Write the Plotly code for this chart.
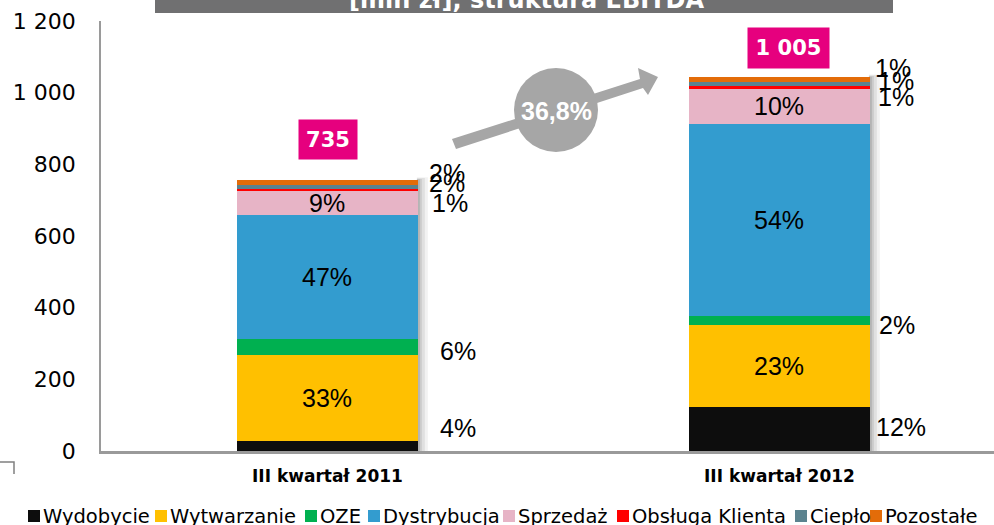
import plotly.graph_objects as go

# ---------------- data ----------------
categories = ["III kwartał 2011", "III kwartał 2012"]
segments = ["Wydobycie", "Wytwarzanie", "OZE", "Dystrybucja", "Sprzedaż",
            "Obsługa Klienta", "Ciepło", "Pozostałe"]
values_2011 = [29, 240, 43, 346, 68, 5, 12, 13]
values_2012 = [122, 231, 23, 537, 98, 9, 11, 12]
pct_2011 = ["4%", "33%", "6%", "47%", "9%", "1%", "2%", "2%"]
pct_2012 = ["12%", "23%", "2%", "54%", "10%", "1%", "1%", "1%"]
total_labels = ["735", "1 005"]
growth_label = "36,8%"
title_text = "[mln zł], struktura EBITDA"
y_tickvals = [0, 200, 400, 600, 800, 1000, 1200]
y_ticktext = ["0", "200", "400", "600", "800", "1 000", "1 200"]

# ---------------- styles / layout helpers ----------------
colors = ["#0D0D0D", "#FFC000", "#00B050", "#339CCF", "#E7B4C6",
          "#FF0000", "#5B838F", "#E36C09"]
inside_idx = [1, 3, 4]
outside_idx = [0, 2, 5, 6, 7]
# y positions (data units) and x shifts (px) of labels placed right of bars
outside_y = [[64, 280, 691, 747, 775], [68, 353, 987, 1032, 1068]]
outside_xshift = [[20, 20, 12, 9, 9], [4, 7, 6, 6, 3]]

W, H = 994, 525
ML, MR, MT, MB = 101, 0, 21, 74
PW, PH = W - ML - MR, H - MT - MB
BAR_W = 0.4
X_RANGE = [-0.501, 1.4746]


def pxx(px):
    return (px - ML) / PW


def pxy(py):
    return (H - MB - py) / PH


SANS = "Liberation Sans, Arial, sans-serif"
WIDE = "DejaVu Sans, sans-serif"

fig = go.Figure()
series = [values_2011, values_2012]
for k, name in enumerate(segments):
    fig.add_trace(go.Bar(
        x=[0, 1], y=[series[0][k], series[1][k]], name=name,
        marker=dict(color=colors[k], line=dict(width=0)),
        width=BAR_W, showlegend=False, hoverinfo="skip"))

annotations = []
shapes = []


def paper_text(px, py, text, font, **kw):
    d = dict(x=pxx(px), y=pxy(py), xref="paper", yref="paper", text=text,
             showarrow=False, xanchor="center", yanchor="middle", font=font)
    d.update(kw)
    annotations.append(d)


# bar shadows
px_unit = (X_RANGE[1] - X_RANGE[0]) / PW
for i, vals in enumerate(series):
    tot = sum(vals)
    for s, op in [(10, 0.05), (7, 0.07), (4, 0.09), (2, 0.11)]:
        shapes.append(dict(type="rect", xref="x", yref="y", layer="below",
                           x0=i + BAR_W / 2 - 1 * px_unit, x1=i + BAR_W / 2 + s * px_unit,
                           y0=0, y1=tot + s * 0.8,
                           fillcolor="rgba(0,0,0,%s)" % op, line=dict(width=0)))

# percentage labels
pcts = [pct_2011, pct_2012]
for i, vals in enumerate(series):
    cum = 0
    mids = []
    for v in vals:
        mids.append(cum + v / 2)
        cum += v
    for k in inside_idx:
        annotations.append(dict(x=i, y=mids[k], xref="x", yref="y", text=pcts[i][k],
                                showarrow=False, xanchor="center", yanchor="middle",
                                font=dict(family=SANS, size=25, color="black")))
    for j, k in enumerate(outside_idx):
        annotations.append(dict(x=i + BAR_W / 2, y=outside_y[i][j], xref="x", yref="y",
                                text=pcts[i][k], showarrow=False, xanchor="left", yanchor="middle",
                                xshift=outside_xshift[i][j],
                                font=dict(family=SANS, size=25, color="black")))

# total boxes
box_pos = [(327.5, 139.5, 50, 31), (788.5, 48, 73, 32)]
for (cx, cy, w, h), lab in zip(box_pos, total_labels):
    paper_text(cx, cy, "<b>%s</b>" % lab, dict(family=WIDE, size=21, color="white"),
               bgcolor="#E6007E", borderpad=4, width=w, height=h)

# growth arrow
arrow_pts = [(452, 139), (640, 79), (638, 68), (658, 77), (648, 95), (643, 88), (456, 149)]
path = "M " + " L ".join("%f,%f" % (pxx(x), pxy(y)) for x, y in arrow_pts) + " Z"
shapes.append(dict(type="path", xref="paper", yref="paper", path=path,
                   fillcolor="#A6A6A6", line=dict(width=0)))
shapes.append(dict(type="circle", xref="paper", yref="paper",
                   x0=pxx(514), x1=pxx(598), y0=pxy(152), y1=pxy(68),
                   fillcolor="#A6A6A6", line=dict(width=0)))
paper_text(556, 111, "<b>%s</b>" % growth_label, dict(family=SANS, size=25, color="white"))

# title bar (cut at top)
shapes.append(dict(type="rect", xref="paper", yref="paper", x0=pxx(155), x1=pxx(893),
                   y0=pxy(13), y1=pxy(-5), fillcolor="#707071", line=dict(width=0)))
paper_text(526, 0, "<b>%s</b>" % title_text, dict(family=WIDE, size=24, color="white"))

# small corner mark bottom-left
shapes.append(dict(type="path", xref="paper", yref="paper",
                   path="M %f,%f L %f,%f L %f,%f" % (pxx(0), pxy(462), pxx(14), pxy(462), pxx(14), pxy(474)),
                   line=dict(color="#808080", width=1.5)))

# legend (manual)
legend_x = [28, 155, 305, 368, 503, 617, 795, 870]
for k, name in enumerate(segments):
    x0 = legend_x[k]
    shapes.append(dict(type="rect", xref="paper", yref="paper", x0=pxx(x0), x1=pxx(x0 + 12),
                       y0=pxy(522), y1=pxy(510), fillcolor=colors[k], line=dict(width=0)))
    paper_text(x0 + 13, 516.5, name, dict(family=WIDE, size=19.5, color="black"), xanchor="left")

fig.update_layout(
    width=W, height=H, barmode="stack",
    margin=dict(l=ML, r=MR, t=MT, b=MB),
    plot_bgcolor="white", paper_bgcolor="white",
    annotations=annotations, shapes=shapes,
    xaxis=dict(range=X_RANGE, tickvals=[0, 1], ticktext=categories,
               showline=True, linecolor="#9A9A9A", linewidth=2.5, showgrid=False,
               zeroline=False, ticks="", ticklabelstandoff=8,
               tickfont=dict(family=WIDE, size=17, color="black", weight="bold")),
    yaxis=dict(range=[0, 1200], tickvals=y_tickvals, ticktext=y_ticktext,
               showline=True, linecolor="#9A9A9A", linewidth=1.5, showgrid=False,
               zeroline=False, ticks="", ticklabelstandoff=19,
               tickfont=dict(family=WIDE, size=22, color="black")),
)

fig.write_html("out.html", config={"displayModeBar": False},
               post_script="document.body.style.margin='0';document.body.style.overflow='hidden';")
